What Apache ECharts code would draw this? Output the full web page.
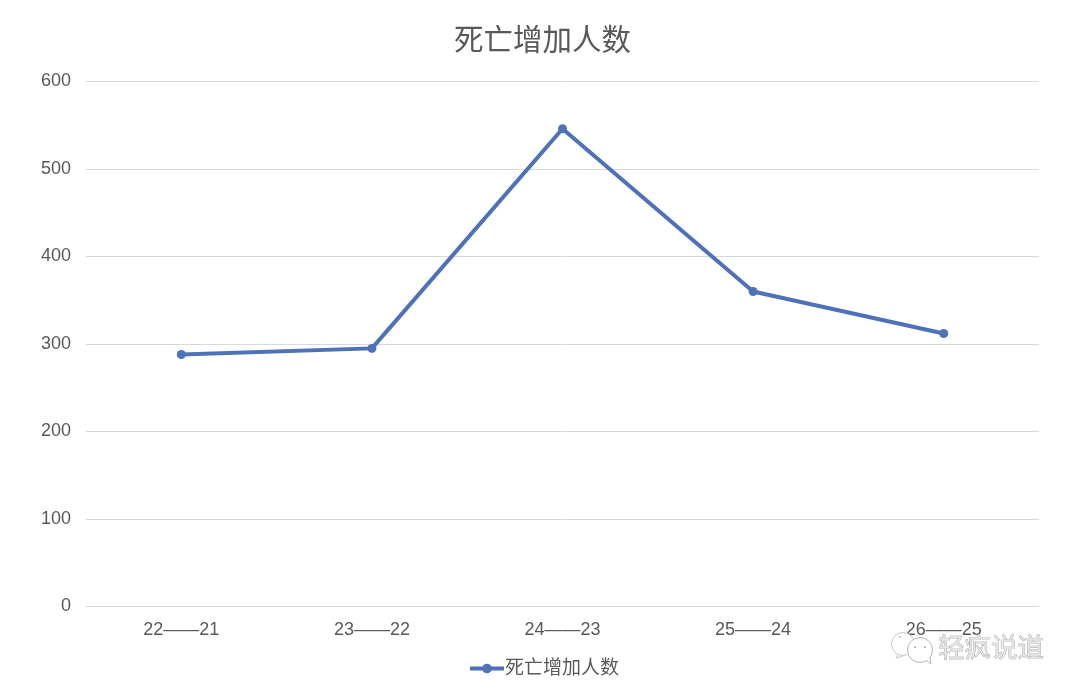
<!DOCTYPE html>
<html><head><meta charset="utf-8">
<style>html,body{margin:0;padding:0;background:#fff}#c{width:1080px;height:696px}</style>
<script src="https://cdn.jsdelivr.net/npm/echarts@6/dist/echarts.min.js"></script></head>
<body><div id="c"></div>
<script>
const categories=['22——21','23——22','24——23','25——24','26——25'];
const values=[288,295,546,360,312];
const seriesName='死亡增加人数';
const watermark='轻疯说道';
const font='"Liberation Sans","Noto Sans CJK SC",sans-serif';
const chart=echarts.init(document.getElementById('c'),null,{renderer:'canvas'});
chart.setOption({
 animation:false,backgroundColor:'#fff',
 title:{text:seriesName,left:449,top:22,textStyle:{fontFamily:font,fontSize:29.5,fontWeight:'normal',color:'#595959'}},
 legend:{top:654,left:463,itemGap:2,itemWidth:34,itemHeight:12,lineStyle:{width:4},textStyle:{fontFamily:font,fontSize:19,color:'#595959',padding:[0,0,0,-4]},data:[seriesName]},
 grid:{left:86,right:41,top:81.5,bottom:89.5,containLabel:false},
 xAxis:{type:'category',data:categories,axisTick:{show:false},axisLine:{lineStyle:{color:'#d9d9d9',width:1}},axisLabel:{fontFamily:font,fontSize:18,color:'#595959',margin:15}},
 yAxis:{type:'value',min:0,max:600,interval:100,axisLine:{show:false},axisTick:{show:false},splitLine:{lineStyle:{color:'#d9d9d9',width:1}},axisLabel:{fontFamily:font,fontSize:18,color:'#595959',margin:15}},
 series:[{name:seriesName,type:'line',data:values,symbol:'circle',symbolSize:9,lineStyle:{color:'#4e71b8',width:4},itemStyle:{color:'#4e71b8'}}],
 graphic:[
  {type:'group',z:100,children:[
   {type:'circle',z:1,shape:{cx:903,cy:644,r:11.5},style:{fill:'#fff',stroke:'#c8c8c8',lineWidth:1}},
   {type:'polyline',z:1,shape:{points:[[898,654],[896,658],[903,656]]},style:{fill:'none',stroke:'#c8c8c8',lineWidth:1}},
   {type:'circle',z:2,shape:{cx:920,cy:650,r:12.5},style:{fill:'#fff',stroke:'#b5b5b5',lineWidth:1}},
   {type:'polyline',z:2,shape:{points:[[926,660],[931,664],[930,657]]},style:{fill:'#fff',stroke:'#b5b5b5',lineWidth:1}},
   {type:'circle',z:3,shape:{cx:915,cy:647,r:1},style:{fill:'#aaa'}},
   {type:'circle',z:3,shape:{cx:925,cy:647,r:1},style:{fill:'#aaa'}},
   {type:'circle',z:3,shape:{cx:900,cy:637,r:1},style:{fill:'#bbb'}},
   {type:'text',z:3,x:938,y:634,style:{text:watermark,fontFamily:'"Noto Sans CJK SC"',fontSize:26.5,fill:'#e4e4e4',stroke:'#8a8a8a',lineWidth:0.6}}
  ]}
 ]
});
</script></body></html>
